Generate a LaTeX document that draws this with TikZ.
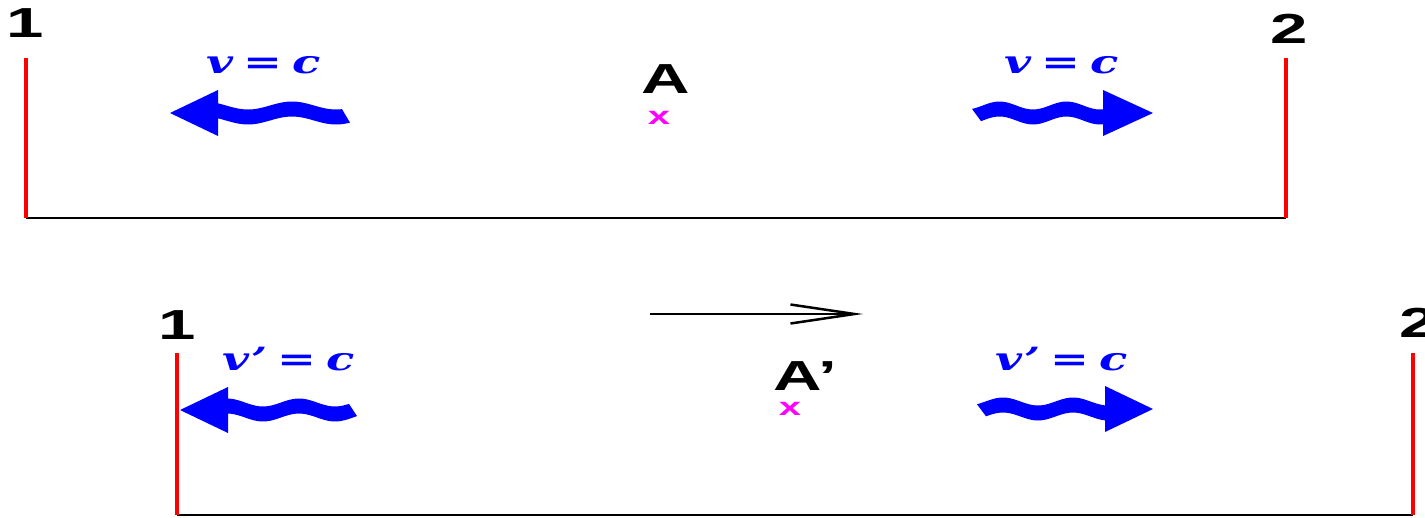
\documentclass[tikz,border=0pt]{standalone}
\usepackage{fontspec}
\usetikzlibrary{arrows.meta}
\newfontfamily\sansbold{Liberation Sans}
\newfontfamily\eqfont{DejaVu Serif}
\definecolor{markmag}{RGB}{255,0,255}
\definecolor{rayblue}{RGB}{0,0,255}
\definecolor{wallred}{RGB}{255,0,0}
% horizontally stretched text
\newcommand\wide[2][1.6]{\scalebox{#1}[1]{#2}}
% wavy light-ray arrow: tip x, centre y, head base x, tail x (upper edge),
% tail x (lower edge), x of downward bulge, wave period
\newcommand\wavearrow[7]{%
  \begin{scope}[declare function={wv(\t)=#2+4*sin(360/#7*(\t-#6)+90);}]
    \fill[wavefill] (#1,#2) -- (#3,#2-23)
      -- plot[domain=#3:#4,samples=40] (\x,{wv(\x)-7.5})
      -- plot[domain=#5:#3,samples=40] (\x,{wv(\x)+7.5})
      -- (#3,#2+23) -- cycle;
  \end{scope}}
\tikzset{
  wall/.style={draw=wallred, line width=4pt},
  floor/.style={draw=black, line width=2.5pt},
  wavefill/.style={fill=rayblue},
  numlabel/.style={inner sep=0pt, anchor=base, font=\sansbold\bfseries\fontsize{42}{42}\selectfont},
  marker/.style={inner sep=0pt, anchor=base, text=markmag, font=\sansbold\bfseries\fontsize{25}{25}\selectfont},
  speed/.style={inner sep=0pt, anchor=base, text=rayblue, font=\eqfont\bfseries\itshape\fontsize{32}{32}\selectfont},
  motion/.style={draw=black, line width=2.5pt, -{Straight Barb[length=64pt,width=19pt]}},
}
\begin{document}
\begin{tikzpicture}[x=1pt,y=-1pt]
\useasboundingbox (0,0) rectangle (1425,517);

% ---------- rest frame ----------
\coordinate (t1) at (26,58);
\coordinate (b1) at (26,218);
\coordinate (t2) at (1286,58);
\coordinate (b2) at (1286,218);
\draw[floor] (b1) -- (b2);
\draw[wall] (t1) -- (b1);
\draw[wall] (t2) -- (b2);

\node[numlabel] (n1) at (25,37) {\wide{1}};
\node[numlabel] (n2) at (1289,43) {\wide{2}};
\node[numlabel] (A) at (666,93) {\wide{A}};
\node[marker] (xA) at (659,124) {\wide{x}};

\node[speed] (sl) at (264,73) {\wide[1.45]{v\hspace{7pt}=\hspace{7pt}c}};
\node[speed] (sr) at (1062,73) {\wide[1.45]{v\hspace{7pt}=\hspace{7pt}c}};

\wavearrow{170}{113}{218}{342}{350}{248}{88}
\wavearrow{1153}{113}{1103}{972}{981}{1033}{67}

% ---------- moving frame ----------
\coordinate (t3) at (177,353);
\coordinate (b3) at (177,515);
\coordinate (t4) at (1413,353);
\coordinate (b4) at (1413,515);
\draw[floor] (b3) -- (b4);
\draw[wall] (t3) -- (b3);
\draw[wall] (t4) -- (b4);

\node[numlabel] (n3) at (177,339) {\wide{1}};
\node[numlabel] (n4) at (1418,337) {\wide{2}};
\node[numlabel] (Ap) at (805,390) {\wide{A’}};
\node[marker] (xAp) at (790,415) {\wide{x}};

\coordinate (m0) at (650,314);
\coordinate (m1) at (863,314);
\draw[motion] (m0) -- (m1);

\node[speed] (sl2) at (289,370) {\wide[1.45]{v’\hspace{7pt}=\hspace{7pt}c}};
\node[speed] (sr2) at (1062,370) {\wide[1.45]{v’\hspace{7pt}=\hspace{7pt}c}};

\wavearrow{180}{410}{228}{349}{357}{263}{72}
\wavearrow{1153}{409}{1105}{977}{986}{1038}{70}
\end{tikzpicture}
\end{document}
